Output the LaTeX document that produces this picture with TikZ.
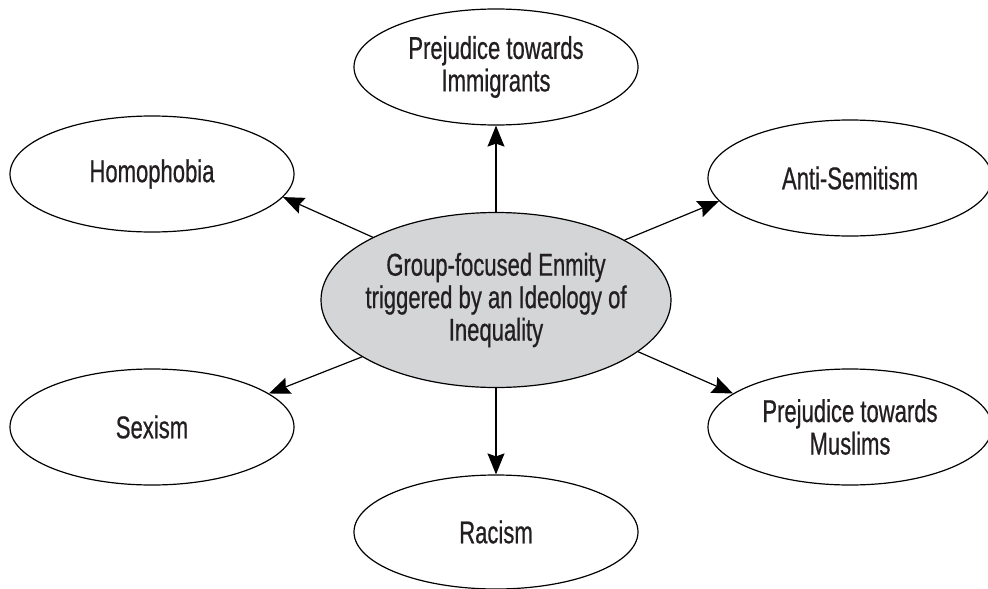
\documentclass[tikz,border=0pt]{standalone}
\usepackage{fontspec}
\setmainfont{Liberation Sans}[FakeStretch=0.70,FakeBold=0.6]
\usetikzlibrary{shapes.geometric,arrows.meta}
\definecolor{centerfill}{RGB}{212,213,215}
\definecolor{txt}{RGB}{35,31,32}
\tikzset{
  ell/.style={draw=black, line width=1.2pt, ellipse, inner sep=-25pt, align=center,
    font=\fontsize{31.5pt}{32.5pt}\selectfont, text=txt},
  outer/.style={ell, fill=white, minimum width=284pt, minimum height=116pt},
  conn/.style={line width=1.2pt, -{Stealth[length=21pt,width=17pt,inset=3pt]}}
}
\begin{document}
\begin{tikzpicture}[x=1pt,y=-1pt]
\useasboundingbox (0,0) rectangle (988,589);
\node[ell, fill=centerfill, minimum width=350pt, minimum height=175pt] (c) at (496,300)
  {Group-focused Enmity\\triggered by an Ideology of\\Inequality};
\node[outer] (imm) at (496,67) {Prejudice towards\\Immigrants};
\node[outer] (hom) at (152,174) {Homophobia};
\node[outer] (ant) at (850,178) {Anti-Semitism};
\node[outer] (sex) at (152,427) {Sexism};
\node[outer] (mus) at (850,427) {Prejudice towards\\Muslims};
\node[outer, minimum height=114pt] (rac) at (496,532) {Racism};
\draw[conn] (c.north) -- (imm.south);
\draw[conn] (c.south) -- (rac.north);
\draw[conn] (c.153.4) -- (hom.-10.4);
\draw[conn] (c.25.1) -- (ant.-170.8);
\draw[conn] (c.-157.4) -- (sex.16.1);
\draw[conn] (c.-20.7) -- (mus.164.4);
\end{tikzpicture}
\end{document}
